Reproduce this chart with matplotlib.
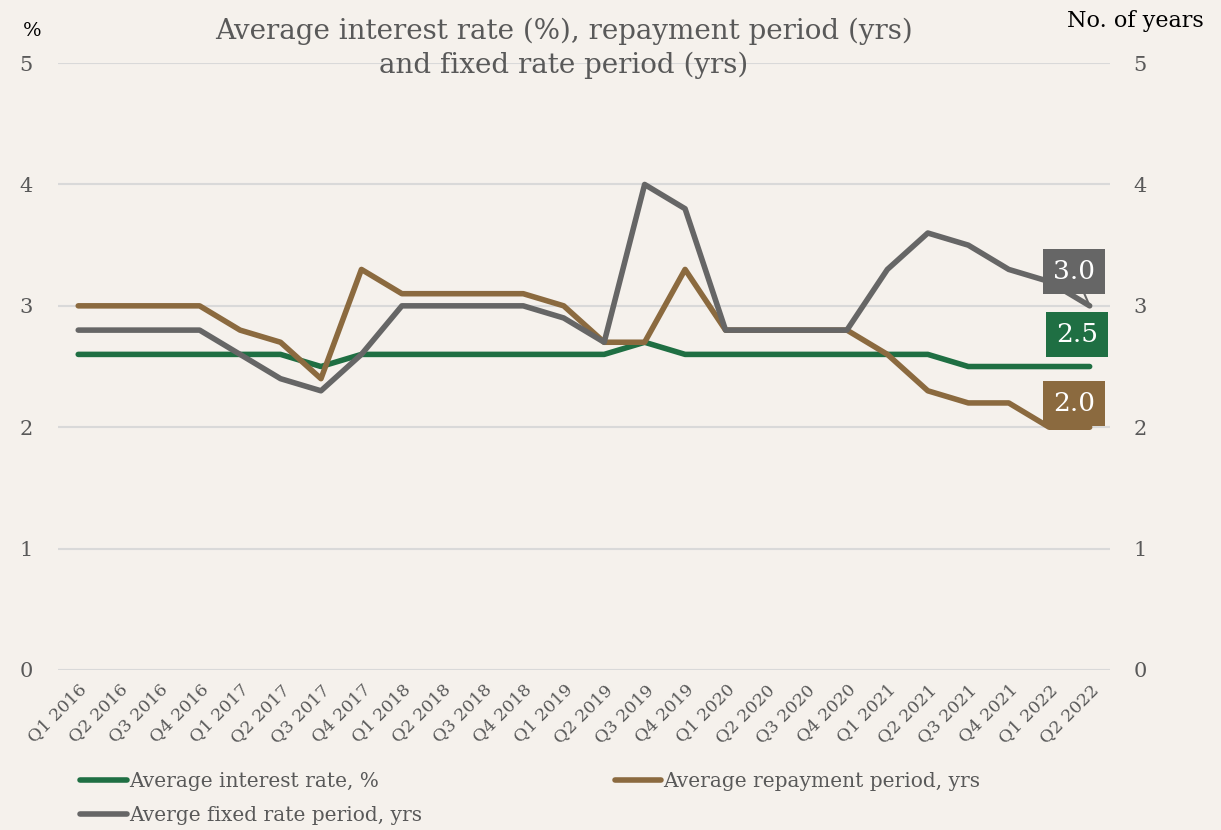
import matplotlib
matplotlib.use("Agg")
import matplotlib.pyplot as plt
from matplotlib.lines import Line2D

quarters = [f"Q{q} {y}" for y in range(2016, 2023) for q in range(1, 5)][:26]
interest = [2.6, 2.6, 2.6, 2.6, 2.6, 2.6, 2.5, 2.6, 2.6, 2.6, 2.6, 2.6, 2.6,
            2.6, 2.7, 2.6, 2.6, 2.6, 2.6, 2.6, 2.6, 2.6, 2.5, 2.5, 2.5, 2.5]
repayment = [3.0, 3.0, 3.0, 3.0, 2.8, 2.7, 2.4, 3.3, 3.1, 3.1, 3.1, 3.1, 3.0,
             2.7, 2.7, 3.3, 2.8, 2.8, 2.8, 2.8, 2.6, 2.3, 2.2, 2.2, 2.0, 2.0]
fixed = [2.8, 2.8, 2.8, 2.8, 2.6, 2.4, 2.3, 2.6, 3.0, 3.0, 3.0, 3.0, 2.9,
         2.7, 4.0, 3.8, 2.8, 2.8, 2.8, 2.8, 3.3, 3.6, 3.5, 3.3, 3.2, 3.0]

bg = "#F5F1EC"
txt = "#595959"
green, brown, grey = "#1F6F43", "#8B6A3F", "#666666"
plt.rcParams["font.family"] = ["DejaVu Serif"]

fig = plt.figure(figsize=(12.21, 8.3), dpi=100, facecolor=bg)
ax = fig.add_axes([0.0475, 0.1928, 0.8615, 0.7312], facecolor=bg)
x = range(len(quarters))
ax.plot(x, interest, color=green, lw=4, solid_capstyle="round", zorder=3)
ax.plot(x, repayment, color=brown, lw=4, solid_capstyle="round", zorder=4)
ax.plot(x, fixed, color=grey, lw=4, solid_capstyle="round", zorder=5)

ax.set_xlim(-0.5, len(quarters) - 0.5)
ax.set_ylim(0, 5)
ax.set_yticks(range(6))
ax.grid(axis="y", color="#D9D9D9", lw=1.5)
ax.set_axisbelow(True)
for s in ax.spines.values():
    s.set_visible(False)
ax.tick_params(length=0, labelsize=15, labelcolor=txt, pad=18)
ax.set_xticks(list(x))
ax.set_xticklabels(quarters, rotation=45, ha="right", rotation_mode="anchor",
                   fontsize=12.5, color=txt)
ax.tick_params(axis="x", pad=8)

ax2 = ax.twinx()
ax2.set_ylim(0, 5)
ax2.set_yticks(range(6))
for s in ax2.spines.values():
    s.set_visible(False)
ax2.tick_params(length=0, labelsize=15, labelcolor=txt, pad=17)

# end-point value labels
last = len(quarters) - 1
box = dict(fontsize=19, color="white", zorder=7, ha="center", va="center",
           textcoords="offset points")
ax.annotate(f"{fixed[-1]:.1f}", (last, fixed[-1]), xytext=(-11, 25),
            bbox=dict(boxstyle="square,pad=0.38", fc=grey, ec="none"),
            arrowprops=dict(arrowstyle="-", color=grey, lw=1.5, shrinkA=0, shrinkB=0), **box)
ax.annotate(f"{interest[-1]:.1f}", (last, interest[-1]), xytext=(-9, 23),
            bbox=dict(boxstyle="square,pad=0.38", fc=green, ec="none"), **box)
ax.annotate(f"{repayment[-1]:.1f}", (last, repayment[-1]), xytext=(-11, 17),
            bbox=dict(boxstyle="square,pad=0.38", fc=brown, ec="none"), **box)

fig.text(0.462, 0.9416, "Average interest rate (%), repayment period (yrs)\nand fixed rate period (yrs)",
         ha="center", va="center", fontsize=20, color=txt, linespacing=1.3)
fig.text(0.026, 0.963, "%", ha="center", va="center", fontsize=14, color="black")
fig.text(0.986, 0.975, "No. of years", ha="right", va="center", fontsize=16, color="black")

handles = [Line2D([], [], color=green, lw=4, solid_capstyle="round"),
           Line2D([], [], color=grey, lw=4, solid_capstyle="round"),
           Line2D([], [], color=brown, lw=4, solid_capstyle="round")]
labels = ["Average interest rate, %", "Averge fixed rate period, yrs",
          "Average repayment period, yrs"]
fig.legend(handles, labels, loc="lower left", bbox_to_anchor=(0.051, -0.016),
           ncol=2, frameon=False, fontsize=14.5, labelcolor=txt,
           handlelength=2.3, handletextpad=0.1, columnspacing=9.6, labelspacing=0.75)

fig.savefig("out.png", dpi=100, facecolor=bg)
